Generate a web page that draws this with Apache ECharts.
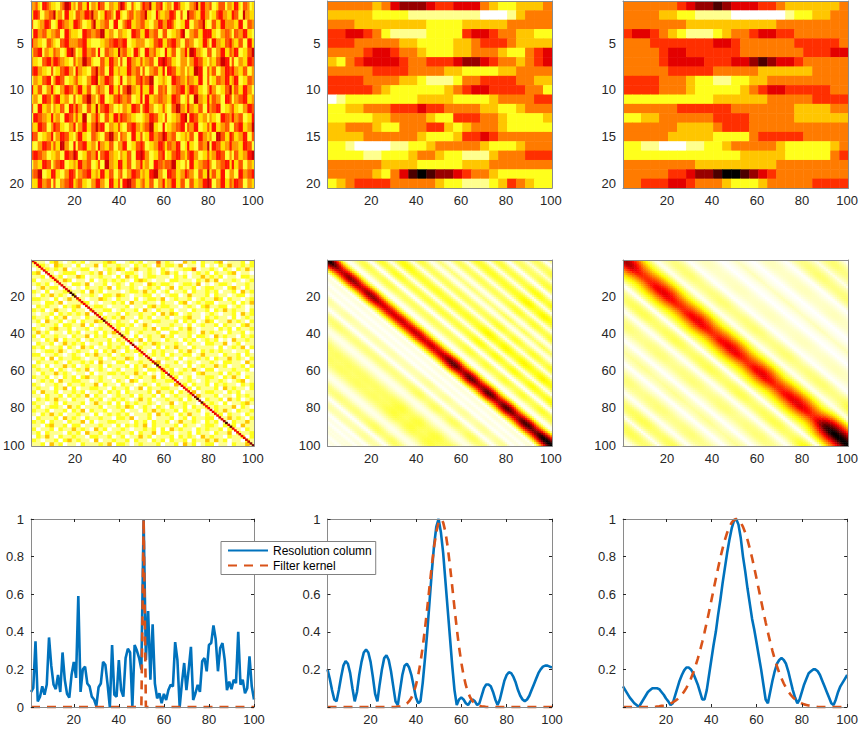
<!DOCTYPE html>
<html><head><meta charset="utf-8">
<script src="https://cdn.jsdelivr.net/npm/echarts@6/dist/echarts.min.js"></script>
<style>html,body{margin:0;padding:0;background:#fff}#c{width:861px;height:731px}</style>
</head><body><div id="c"></div>
<script>
// ---------- tick labels ----------
const xTicks = [20, 40, 60, 80, 100];
const topYTicks = [5, 10, 15, 20];
const midYTicks = [20, 40, 60, 80, 100];
const lineYTicksLeft = [0, 0.2, 0.4, 0.6, 0.8, 1];
const lineYTicksMid = [0.2, 0.4, 0.6, 1];          // 0.8 sits behind the legend
const lineYTicksRight = [0.2, 0.4, 0.6, 0.8, 1];
const lineTickMarks = [0, 0.2, 0.4, 0.6, 0.8, 1];
const legendNames = ['Resolution column', 'Filter kernel'];

// ---------- top row: 20 x 100 model (levels 0..9, 9 = darkest) ----------
const modelRows = [
"4453266543 3224577634 2553362443 6552244335 7642253224 6557335562 3442665332 2445736644 5223555244 3663255423",
"3665224455 7344266332 5544665744 2336554266 3224553445 5733226433 4466522522 7554336644 2335664433 6552274433",
"5223446652 2366544336 6542233573 3445522662 2456633445 5332244664 4665322336 6224455732 2553366444 4336622554",
"2664455334 4552266433 3226655445 5773344224 4332266553 3664455225 5223344672 2445533666 6332244554 2554466332",
"6443322554 3225566444 4556633222 2334455665 5662233444 4223355663 3556644225 5442233664 2664433556 4335522663",
"3556624433 5442236675 2336644552 6225544337 4553326642 2664453322 6335522446 3776443225 5224466335 4662233557",
"4332255664 6654433225 3447755322 2553366442 5226644335 3445522667 6553322444 2446655332 4335577662 5224433665",
"5664433225 2335566442 6443322557 4552266334 3336644552 5224455336 2665533442 4337766225 3552244665 6443355224",
"2443355662 4665522334 5332244667 3446655223 6224433556 4557722334 3226655443 5443366225 2335544663 4662233554",
"6335522446 3224466553 4663355224 5442266335 2557744336 3336622554 5224455663 4665533224 6442233557 3553366442",
"3442266553 5663344225 2335577442 4662233556 5445522336 2663344554 4336655223 5227744336 3554422665 2445566334",
"5226633442 4335522664 6442255337 3556644223 2443366552 5664422335 3225577443 6443355226 4556622334 5332244665",
"2665544336 3442266553 5337722446 4225533664 6554433222 3446655332 5223344667 2665533442 4332266554 6445522336",
"4336655224 6553322446 2446633557 5662244335 3225566443 4557733226 2334455662 5446622335 3663344552 2556633447",
"6552233446 2446655332 4663322554 3225577442 5442266335 2336644557 6445522334 3552266443 4227755336 5334466225",
"3224466553 5337744226 2556633442 6443355224 4662233556 5223344665 3554466223 6332255447 2665533446 4443366552",
"5665544223 3442266557 6223355446 2556644332 4335522667 6442233556 2335566443 5664422335 3446655224 2553344667",
"2443366552 4556622334 3664455223 5227744336 6335522446 3442266554 5557733224 2663344556 4224455663 6335522443",
"4557722336 6332244665 2445566334 3663355224 5224466553 4336677442 2665533446 5442255337 3553366224 4226644556",
"3336644552 5224455663 4553322446 6442266335 2667755334 5335522446 3446633552 2553344667 6224466335 4665522443"
];

// smoothed model, 20 rows x 25 blocks (each block = 4 columns)
const smoothRows = [
"4444434677765566643223334","3333322221111111100013444","4443333333322223333344444","5566542111122225665443322",
"5554444433222233455543333","4444566544322233444322456","3245666654455567765443456","4444455554444332222334444",
"5555444433211124455554433","5555543222222345665555442","0122222222333322223444455","2233444555655444433223444",
"2222233444432255544322223","3344432244455323444322222","3333444444322235565444444","2210000112234444432223444",
"2222112223443221113444555","4444443333222223334444444","4444432468987765443222222","2345555444443221112354322"
];
// more strongly smoothed model, 20 rows x 25 blocks
const smootherRows = [
"4444445677876665543333334","4444332211110000001223344","4444444333333333344444444","5665432111234456655444444",
"4445555555665444444555554","4444566555555444444455566","4444566665556678766544444","4444455555444443333334444",
"5555444322112233444444444","5555444322222345665555544","2222222222333333444445555","4444445555554444444333344",
"2233444444555544444333333","4444443333455544444444444","4444433333222245555544444","2211000112234444432222234",
"2222222222222333332222245","4444444433333333344444444","4444455677899876544444444","4455566544432223444445555"
];

// ---------- middle row, left: 50 x 50 off-diagonal texture (levels 0..9) + diagonal ----------
const noiseRows = [
"2110231012 1201112320 0121201141 2100312021 1230111202","1221032110 2011302112 1102121031 2213011020 1021311212",
"0112121301 1220101213 2013112102 1011224011 2102102131","2301101222 0112130210 1221012102 3120101212 0211230110",
"1120212011 3201121102 0312012211 1021201131 2120110221","2011121320 1102012121 2102321011 0221110213 1301121012",
"1212011102 2130112012 1021103212 2101221301 0122101121","0131220110 1021121302 1121012120 1302112012 2110231021",
"2102011221 1203120111 0122131201 2011202112 1201120312","1021312102 0112102213 2101122010 1220131112 0211012201",
"2211020131 2101132102 1102012213 0121120121 1320211012","1102213011 1220101121 2031121102 1102301212 2011120213",
"0212110212 3011221011 1201102312 2110121023 1122012101","2120131102 1102112201 2112031021 1201102112 0213121102",
"1011202121 2130120112 0211211203 1320121101 2101120312","2112021301 1021102121 3110212011 2011231102 1211020121",
"1203112012 0211321102 1102011221 1120212013 2011312102","0121120221 1302011212 2120131011 1211020121 1202110231",
"2101231120 1120121102 0211121302 2102131011 1021202112","1312011021 2011202131 1201211120 0221121031 2110211201",
"2021121102 1130212011 2102012113 1201120221 0312110212","1102130211 2012111202 1121302110 2110212012 1201031121",
"0211201312 1201120211 2010121321 1121021102 2113012011","2120112021 0312011212 1201211020 2131102111 1020121302",
"1012213101 2110202131 0212110212 1102131021 2121101120","2201121012 1021311201 2110201212 0211220131 1102112021",
"1120302112 2101120121 1320112011 2102011212 0211312102","0211121021 1212031102 2011211230 1120121011 2102211031",
"2102011312 0121120211 1202131021 2111020121 1312011202","1211202101 2130121012 0112102213 1201213102 2011121120",
"1021131210 1102011221 2113120102 0212110231 1120212011","2112010212 0231121011 1201211302 1120120112 2102131021",
"0121203112 2110121102 1032011211 2201121012 1121012301","2101121021 1211302110 2110121021 1031202112 0212110212",
"1211021302 0112211021 1201302112 2110120211 1203121102","2031120112 1201120212 0211112031 1202113012 2110212011",
"1102112021 2130211012 1120211202 0121120311 1201102121","0212131102 1102120121 2101312011 2112021102 1120312012",
"2110120211 1201311202 0212112101 1301211021 2102011231","1201221031 2011120112 1320121021 0211202112 1211130210",
"2112011202 1302112011 2011021312 1120211201 0213102112","1021312011 2110201212 1201112031 2102131102 1120211021",
"0211120312 1021121102 2130112011 1201202112 2011312102","2120211021 1302011221 1102120211 2013112102 1201021131",
"1102311202 2011121102 0212130211 1120211012 2102120311","2011202113 1210312011 2101121202 0312110212 1120211021",
"1202111021 2031120112 1120211302 2101120211 0211302112","0213102112 1102211201 2011312011 1202121031 2110211202",
"2101120231 2110301121 1202110212 0211202113 1312011021","1120312011 0211121302 2101211120 1120312012 2011021131"
];
const diagLeft = [
0.72,0.66,0.64,0.66,0.63,0.65,0.68,0.64,0.66,0.63, 0.65,0.67,0.64,0.66,0.70,0.66,0.75,0.90,0.95,0.85,
0.68,0.64,0.66,0.63,0.65,0.67,0.64,0.66,0.70,0.65, 0.68,0.74,0.88,0.70,0.64,0.66,0.63,0.65,0.68,0.72,
0.85,0.66,0.64,0.67,0.70,0.78,0.66,0.63,0.65,0.68, 0.64,0.66,0.70,0.65,0.68,0.76,0.90,0.70,0.64,0.66,
0.63,0.80,0.68,0.64,0.66,0.65,0.70,0.64,0.66,0.63, 0.65,0.67,0.70,0.78,0.92,0.72,0.86,0.66,0.64,0.65,
0.68,0.64,0.66,0.63,0.70,0.66,0.75,0.92,0.70,0.86, 0.66,0.64,0.65,0.68,0.64,0.66,0.70,0.72,0.80,0.82
];

// ---------- middle row, centre/right: strength along the diagonal ----------
const ampMid = [
1.00,0.98,0.93,0.86,0.79,0.74,0.72,0.73,0.76,0.79, 0.80,0.80,0.78,0.75,0.72,0.71,0.73,0.76,0.79,0.80,
0.80,0.78,0.75,0.72,0.70,0.69,0.69,0.70,0.70,0.69, 0.69,0.70,0.71,0.71,0.70,0.69,0.69,0.70,0.71,0.72,
0.72,0.71,0.70,0.69,0.69,0.70,0.71,0.71,0.70,0.70, 0.71,0.73,0.76,0.80,0.84,0.87,0.88,0.86,0.81,0.76,
0.75,0.79,0.84,0.87,0.87,0.83,0.78,0.75,0.76,0.80, 0.85,0.88,0.88,0.85,0.80,0.76,0.76,0.80,0.85,0.88,
0.89,0.86,0.81,0.77,0.77,0.80,0.85,0.89,0.91,0.91, 0.88,0.84,0.83,0.86,0.91,0.96,0.99,1.00,1.00,1.00
];
const ampRight = [
0.76,0.76,0.75,0.73,0.70,0.66,0.62,0.59,0.57,0.56, 0.56,0.57,0.59,0.61,0.63,0.64,0.65,0.66,0.66,0.66,
0.65,0.63,0.61,0.59,0.58,0.57,0.57,0.58,0.60,0.62, 0.63,0.64,0.65,0.66,0.65,0.64,0.62,0.60,0.58,0.57,
0.57,0.58,0.60,0.62,0.63,0.64,0.65,0.66,0.66,0.65, 0.64,0.62,0.60,0.58,0.57,0.57,0.58,0.60,0.62,0.64,
0.65,0.66,0.66,0.65,0.63,0.61,0.59,0.57,0.57,0.58, 0.59,0.61,0.63,0.64,0.65,0.66,0.67,0.67,0.67,0.66,
0.64,0.62,0.60,0.58,0.58,0.61,0.66,0.73,0.80,0.87, 0.92,0.95,0.98,1.00,1.00,1.00,1.00,1.00,1.00,1.00
];

// ---------- bottom row: resolution columns and filter kernels (x = 1..100) ----------
const colLeft = [
0.08,0.10,0.35,0.03,0.055,0.11,0.065,0.12,0.37,0.22, 0.12,0.095,0.17,0.08,0.29,0.145,0.07,0.05,0.17,0.24,
0.155,0.59,0.08,0.20,0.215,0.125,0.11,0.055,0.04,0.005, 0.105,0.125,0.24,0.225,0.12,0.0,0.33,0.065,0.055,0.25,
0.09,0.055,0.26,0.31,0.29,0.0,0.33,0.30,0.26,0.20, 1.0,0.25,0.51,0.145,0.44,0.125,0.046,0.073,0.02,0.07,
0.037,0.09,0.118,0.11,0.345,0.25,0.0,0.127,0.234,0.09, 0.20,0.32,0.037,0.073,0.118,0.08,0.243,0.26,0.19,0.33,
0.34,0.434,0.36,0.19,0.314,0.34,0.25,0.09,0.135,0.095, 0.145,0.127,0.40,0.118,0.145,0.073,0.10,0.27,0.11,0.04
];
const kernelLeft = [
0,0,0,0,0,0,0,0,0,0, 0,0,0,0,0,0,0,0,0,0, 0,0,0,0,0,0,0,0,0,0, 0,0,0,0,0,0,0,0,0,0, 0,0,0,0,0,0,0,0,0,0,
1,0,0,0,0,0,0,0,0,0, 0,0,0,0,0,0,0,0,0,0, 0,0,0,0,0,0,0,0,0,0, 0,0,0,0,0,0,0,0,0,0, 0,0,0,0,0,0,0,0,0,0
];
const colMid = [
0.20,0.15,0.09,0.04,0.03,0.09,0.16,0.22,0.245,0.23, 0.18,0.10,0.03,0.08,0.17,0.24,0.29,0.305,0.29,0.24,
0.16,0.07,0.03,0.12,0.20,0.26,0.275,0.25,0.19,0.11, 0.03,0.01,0.09,0.17,0.22,0.23,0.21,0.17,0.11,0.05,
0.02,0.03,0.13,0.26,0.40,0.56,0.72,0.86,0.96,1.00, 0.93,0.82,0.67,0.52,0.37,0.22,0.09,0.01,0.04,0.05,
0.04,0.02,0.01,0.03,0.04,0.03,0.01,0.02,0.06,0.10, 0.12,0.12,0.11,0.08,0.04,0.01,0.04,0.09,0.14,0.17,
0.185,0.18,0.16,0.13,0.09,0.06,0.04,0.03,0.04,0.06, 0.09,0.12,0.15,0.18,0.20,0.215,0.22,0.22,0.215,0.21
];
const kernelMid = [
0,0,0,0,0,0,0,0,0,0, 0,0,0,0,0,0,0,0,0,0, 0,0,0,0,0,0,0,0,0,0, 0,0.002,0.003,0.006,0.010,0.018,0.031,0.049,0.077,0.116,
0.169,0.237,0.320,0.418,0.527,0.641,0.752,0.852,0.931,0.982, 1,0.982,0.931,0.852,0.752,0.641,0.527,0.418,0.320,0.237,
0.169,0.116,0.077,0.049,0.031,0.018,0.010,0.006,0.003,0.002, 0,0,0,0,0,0,0,0,0,0, 0,0,0,0,0,0,0,0,0,0, 0,0,0,0,0,0,0,0,0,0
];
const colRight = [
0.11,0.09,0.07,0.05,0.035,0.02,0.01,0.0,0.02,0.04, 0.06,0.08,0.09,0.10,0.10,0.10,0.095,0.08,0.065,0.045,
0.03,0.01,0.02,0.06,0.10,0.14,0.17,0.195,0.21,0.21, 0.20,0.18,0.15,0.12,0.08,0.04,0.04,0.09,0.17,0.25,
0.33,0.40,0.49,0.57,0.66,0.74,0.82,0.89,0.95,0.99, 1.00,0.97,0.90,0.80,0.72,0.63,0.55,0.47,0.41,0.34,
0.27,0.20,0.12,0.04,0.02,0.08,0.14,0.19,0.23,0.25, 0.26,0.25,0.23,0.19,0.14,0.09,0.05,0.02,0.04,0.08,
0.12,0.15,0.18,0.19,0.20,0.20,0.19,0.17,0.14,0.11, 0.08,0.05,0.02,0.01,0.04,0.08,0.11,0.13,0.15,0.17
];
const kernelRight = [
0,0,0,0,0,0,0,0,0,0, 0,0,0,0,0,0.003,0.004,0.006,0.008,0.011,
0.014,0.019,0.025,0.032,0.041,0.052,0.066,0.082,0.102,0.125, 0.152,0.182,0.217,0.256,0.299,0.346,0.397,0.451,0.507,0.565,
0.624,0.682,0.739,0.794,0.844,0.889,0.927,0.958,0.981,0.995, 1,0.995,0.981,0.958,0.927,0.889,0.844,0.794,0.739,0.682,
0.624,0.565,0.507,0.451,0.397,0.346,0.299,0.256,0.217,0.182, 0.152,0.125,0.102,0.082,0.066,0.052,0.041,0.032,0.025,0.019,
0.014,0.011,0.008,0.006,0.004,0.003,0,0,0,0, 0,0,0,0,0,0,0,0,0,0
];

// ---------- styling ----------
const FONT = "'Liberation Sans', Arial, Helvetica, sans-serif";
const hotR = ['#ffffff','#ffff80','#ffff00','#ffaa00','#ff5500','#ff0000','#aa0000','#550000','#000000'];
const BLUE = '#0072BD', RED = '#D95319';
const FRAME = '#8a8a8a', TXT = '#262626';

// ---------- build tables ----------
function levelGrid(rows, nY, top) {
  const out = []; const ys = nY / rows.length;
  rows.forEach((raw, r) => {
    const s = raw.replace(/\s/g, ''); const xs = 100 / s.length;
    for (let c = 0; c < s.length; c++)
      out.push([0.5 + c * xs, 0.5 + r * ys, 0.5 + (c + 1) * xs, 0.5 + (r + 1) * ys, (+s[c]) / top]);
  });
  return out;
}
function diagCells(vals) {
  return vals.map((v, i) => [i + 0.5, i + 0.5, i + 1.5, i + 1.5, v]);
}
// bounce an index back into [lo, hi]
function bounce(k, lo, hi) {
  while (k < lo || k > hi) { if (k < lo) k = 2 * lo - k; if (k > hi) k = 2 * hi - k; }
  return k;
}
function bandMatrix(amp, prof, c, loSide, hiSide) {
  const out = [];
  for (let i = 1; i <= 100; i++) for (let j = 1; j <= 100; j++) {
    const d = i - j; let k = c + d;
    if (k < 1) k = bounce(k, 1, loSide);
    if (k > 100) k = bounce(k, hiSide, 100);
    const s = Math.round((i + j) / 2);
    out.push([j - 0.5, i - 0.5, j + 0.5, i + 0.5, amp[s - 1] * prof[k - 1]]);
  }
  return out;
}
const pairs = arr => arr.map((v, i) => [i + 1, v]);

function rectItem(params, api) {
  const p0 = api.coord([api.value(0), api.value(1)]);
  const p1 = api.coord([api.value(2), api.value(3)]);
  return {
    type: 'rect',
    shape: { x: Math.min(p0[0], p1[0]), y: Math.min(p0[1], p1[1]),
             width: Math.abs(p1[0] - p0[0]) + 0.5, height: Math.abs(p1[1] - p0[1]) + 0.5 },
    style: { fill: api.visual('color') }
  };
}

// ---------- layout ----------
const colPos = [[31, 223], [327.5, 224.5], [623, 226.5]];
const rowPos = [[1, 187], [260, 186], [519, 188]];
const grids = [], xAxes = [], yAxes = [];
for (let r = 0; r < 3; r++) for (let c = 0; c < 3; c++) {
  const g = r * 3 + c;
  grids.push({ left: colPos[c][0], top: rowPos[r][0], width: colPos[c][1], height: rowPos[r][1] });
  const xmin = r < 2 ? 0.5 : 1, xmax = r < 2 ? 100.5 : 100;
  const ymin = r === 0 ? 0.5 : (r === 1 ? 0.5 : 0);
  const ymax = r === 0 ? 20.5 : (r === 1 ? 100.5 : 1);
  const yLab = r === 0 ? topYTicks : (r === 1 ? midYTicks :
               (c === 0 ? lineYTicksLeft : (c === 1 ? lineYTicksMid : lineYTicksRight)));
  const yTick = r === 2 ? lineTickMarks : yLab;
  const showTick = r === 2;
  const line = { show: true, onZero: false, lineStyle: { color: FRAME, width: 1 } };
  const tick = vals => ({ show: showTick, inside: true, length: 3, customValues: vals, lineStyle: { color: TXT, width: 1 } });
  const lab = (vals, m) => ({ show: true, customValues: vals, margin: m, color: TXT, fontSize: 13, fontFamily: FONT });
  ['bottom', 'top'].forEach(pos => xAxes.push({
    type: 'value', gridIndex: g, position: pos, min: xmin, max: xmax, z: 10,
    axisLine: line, axisTick: tick(xTicks),
    axisLabel: pos === 'bottom' ? lab(xTicks, 6) : { show: false },
    splitLine: { show: false }
  }));
  ['left', 'right'].forEach(pos => yAxes.push({
    type: 'value', gridIndex: g, position: pos, min: ymin, max: ymax, inverse: r < 2, z: 10,
    axisLine: line, axisTick: tick(yTick),
    axisLabel: pos === 'left' ? lab(yLab, 7) : { show: false },
    splitLine: { show: false }
  }));
}

function cellSeries(g, data) {
  return { type: 'custom', xAxisIndex: 2 * g, yAxisIndex: 2 * g, renderItem: rectItem,
           encode: { x: [0, 2], y: [1, 3] }, data: data, animation: false, silent: true,
           progressive: 0, progressiveThreshold: 1e9 };
}
function lineSeries(g, name, arr, color, dashed) {
  return { type: 'line', name: name, xAxisIndex: 2 * g, yAxisIndex: 2 * g, data: pairs(arr),
           symbol: 'none', clip: false, animation: false, silent: true,
           lineStyle: { color: color, width: 2.6, type: dashed ? [9, 7] : 'solid' },
           itemStyle: { color: color } };
}

const series = [
  cellSeries(0, levelGrid(modelRows, 20, 10)),
  cellSeries(1, levelGrid(smoothRows, 20, 9)),
  cellSeries(2, levelGrid(smootherRows, 20, 9)),
  cellSeries(3, levelGrid(noiseRows, 100, 9)),
  cellSeries(3, diagCells(diagLeft)),
  cellSeries(4, bandMatrix(ampMid, colMid, 50, 40, 59)),
  cellSeries(5, bandMatrix(ampRight, colRight, 51, 36, 65)),
  lineSeries(6, legendNames[0], colLeft, BLUE, false),
  lineSeries(6, legendNames[1], kernelLeft, RED, true),
  lineSeries(7, legendNames[0], colMid, BLUE, false),
  lineSeries(7, legendNames[1], kernelMid, RED, true),
  lineSeries(8, legendNames[0], colRight, BLUE, false),
  lineSeries(8, legendNames[1], kernelRight, RED, true)
];

const chart = echarts.init(document.getElementById('c'), null, { renderer: 'svg' });
chart.setOption({
  animation: false,
  progressive: 0,
  backgroundColor: '#ffffff',
  grid: grids, xAxis: xAxes, yAxis: yAxes,
  visualMap: { type: 'continuous', show: false, min: 0, max: 1, dimension: 4,
               seriesIndex: [0, 1, 2, 3, 4, 5, 6], inRange: { color: hotR } },
  legend: {
    data: legendNames, orient: 'vertical', left: 221, top: 541.5,
    itemWidth: 40, itemHeight: 14, itemGap: 3, padding: [3, 4, 3, 6],
    backgroundColor: '#ffffff', borderColor: '#808080', borderWidth: 1, borderRadius: 0,
    selectedMode: false, z: 20,
    itemStyle: { opacity: 0 },
    textStyle: { fontSize: 12, color: '#000', fontFamily: FONT }
  },
  series: series
});
</script></body></html>
